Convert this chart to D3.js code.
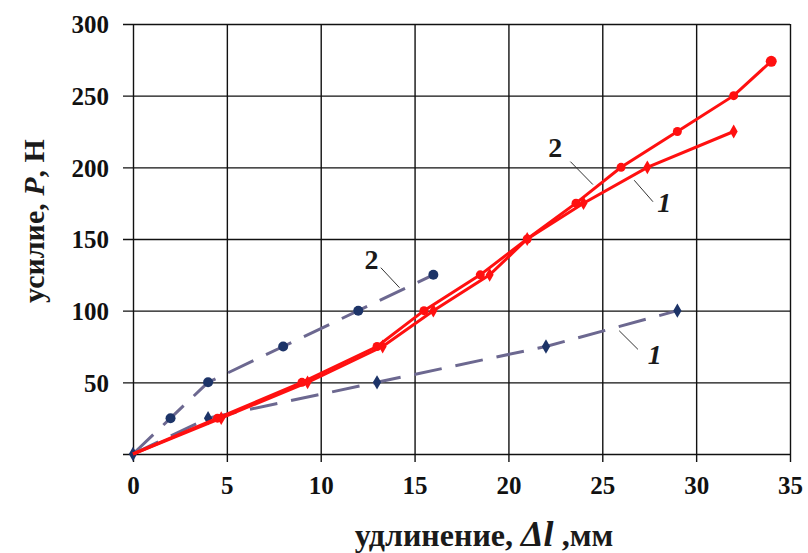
<!DOCTYPE html>
<html lang="ru">
<head>
<meta charset="UTF-8">
<title>усилие - удлинение</title>
<style>
  body { margin: 0; padding: 0; background: #fff; }
  svg text { font-family: "Liberation Serif", "DejaVu Serif", serif; font-weight: bold; }
</style>
</head>
<body>
<svg id="chart" width="808" height="553"></svg>
<script src="https://d3js.org/d3.v7.min.js"></script>
<script>
// red solid curves
var red1X = [0, 4.7, 9.3, 13.3, 16, 19, 21, 24, 27.4, 32];
var red1Y = [0, 25, 50, 75, 100, 125, 150, 175, 200, 225];
var red2X = [0, 4.5, 9, 13, 15.5, 18.5, 21, 23.6, 26, 29, 32, 34];
var red2Y = [0, 25, 50, 75, 100, 125, 150, 175, 200, 225, 250, 274];
// dashed curves
var blue1X = [0, 4, 13, 22, 29];
var blue1Y = [0, 25, 50, 75, 100];
var blue2X = [0, 2, 4, 8, 12, 16];
var blue2Y = [0, 25, 50, 75, 100, 125];

var xTicks = [0, 5, 10, 15, 20, 25, 30, 35];
var yTicks = [50, 100, 150, 200, 250, 300];

var margin = { top: 24, right: 18, bottom: 99, left: 133 };
var width = 808 - margin.left - margin.right;
var height = 553 - margin.top - margin.bottom;

var svg = d3.select("#chart");
var g = svg.append("g")
    .attr("transform", "translate(" + margin.left + "," + margin.top + ")");

var x = d3.scaleLinear().domain([0, 35]).range([0, width]);
var y = d3.scaleLinear().domain([0, 300]).range([height, 0]);

// grid + ticks (horizontal lines stick out to the left, vertical ones below)
var yAxis = g.append("g")
    .attr("transform", "translate(" + width + ",0)")
    .call(d3.axisLeft(y).tickValues([0].concat(yTicks)).tickSize(width + 10).tickPadding(14)
        .tickFormat(function (d) { return d === 0 ? "" : d; }));
yAxis.select(".domain").remove();
yAxis.selectAll("line").attr("stroke", "#111").attr("stroke-width", 1.4);
yAxis.selectAll("text").attr("font-size", 25).attr("fill", "#111").attr("dy", "0.35em");

var xAxis = g.append("g")
    .call(d3.axisBottom(x).tickValues(xTicks).tickSize(height + 8).tickPadding(14));
xAxis.select(".domain").remove();
xAxis.selectAll("line").attr("stroke", "#111").attr("stroke-width", 1.4);
xAxis.selectAll("text").attr("font-size", 25).attr("fill", "#111");

function pts(xs, ys) { return xs.map(function (v, i) { return [v, ys[i]]; }); }
var line = d3.line().x(function (d) { return x(d[0]); }).y(function (d) { return y(d[1]); });

// dashed series
[pts(blue1X, blue1Y), pts(blue2X, blue2Y)].forEach(function (data) {
    g.append("path").datum(data).attr("d", line)
        .attr("fill", "none").attr("stroke", "#6c6890").attr("stroke-width", 3)
        .attr("stroke-dasharray", "28,14");
});
g.selectAll(".b1").data(pts(blue1X, blue1Y)).enter().append("path")
    .attr("d", d3.symbol().type(d3.symbolDiamond).size(60))
    .attr("transform", function (d) { return "translate(" + x(d[0]) + "," + y(d[1]) + ")"; })
    .attr("fill", "#1d3468");
g.selectAll(".b2").data(pts(blue2X, blue2Y).slice(1)).enter().append("circle")
    .attr("cx", function (d) { return x(d[0]); })
    .attr("cy", function (d) { return y(d[1]); })
    .attr("r", 5).attr("fill", "#1d3468");

// red series
[pts(red1X, red1Y), pts(red2X, red2Y)].forEach(function (data) {
    g.append("path").datum(data).attr("d", line)
        .attr("fill", "none").attr("stroke", "#ff1010").attr("stroke-width", 3);
});
g.selectAll(".r1").data(pts(red1X, red1Y).slice(1)).enter().append("path")
    .attr("d", d3.symbol().type(d3.symbolDiamond).size(55))
    .attr("transform", function (d) { return "translate(" + x(d[0]) + "," + y(d[1]) + ")"; })
    .attr("fill", "#ff1010");
g.selectAll(".r2").data(pts(red2X, red2Y).slice(1)).enter().append("circle")
    .attr("cx", function (d) { return x(d[0]); })
    .attr("cy", function (d) { return y(d[1]); })
    .attr("r", function (d, i, n) { return i === n.length - 1 ? 5.5 : 4.5; })
    .attr("fill", "#ff1010");

// curve labels with leader lines (data coords)
var labels = [
    { t: "2", italic: false, lx: 22.5, ly: 207, x1: 23.3, y1: 204, x2: 24.5, y2: 188 },
    { t: "1", italic: true, lx: 28.3, ly: 169, x1: 26.7, y1: 191, x2: 27.7, y2: 176 },
    { t: "2", italic: false, lx: 12.7, ly: 129, x1: 13.2, y1: 130, x2: 14.2, y2: 116 },
    { t: "1", italic: true, lx: 27.8, ly: 63, x1: 25.9, y1: 86, x2: 26.9, y2: 73 }
];
labels.forEach(function (d) {
    g.append("line")
        .attr("x1", x(d.x1)).attr("y1", y(d.y1))
        .attr("x2", x(d.x2)).attr("y2", y(d.y2))
        .attr("stroke", "#333").attr("stroke-width", 1);
    g.append("text")
        .attr("x", x(d.lx)).attr("y", y(d.ly))
        .attr("text-anchor", "middle")
        .attr("font-size", 28)
        .attr("font-style", d.italic ? "italic" : "normal")
        .attr("fill", "#1a1a1a")
        .text(d.t);
});

// axis titles
var xt = svg.append("text")
    .attr("x", 484).attr("y", 546)
    .attr("text-anchor", "middle")
    .attr("font-size", 32).attr("fill", "#1a1a1a");
xt.append("tspan").text("удлинение, ");
xt.append("tspan").attr("font-style", "italic").attr("font-size", 36).text("Δl");
xt.append("tspan").text(" ,мм");

var yt = svg.append("text")
    .attr("transform", "translate(44,221) rotate(-90)")
    .attr("text-anchor", "middle")
    .attr("font-size", 30).attr("fill", "#1a1a1a");
yt.append("tspan").text("усилие, ");
yt.append("tspan").attr("font-style", "italic").text("P");
yt.append("tspan").text(", Н");
</script>
</body>
</html>
